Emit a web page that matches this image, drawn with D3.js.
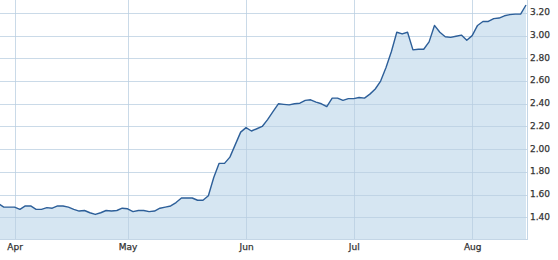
<!DOCTYPE html>
<html lang="en">
<head>
<meta charset="utf-8">
<title>Price chart</title>
<script src="https://cdn.jsdelivr.net/npm/d3@7"></script>
<style>
  body { margin: 0; background: #fff; }
  svg text { font-family: "DejaVu Sans", Verdana, sans-serif; font-size: 9px; fill: #333; stroke: #333; stroke-width: 0.25px; }
</style>
</head>
<body>
<script>
// trading days, Mar 27 - Aug 15
var startDay = "2019-03-27";
var endDay = "2019-08-15";
var holidays = ["2019-04-19", "2019-05-27", "2019-07-04"];

var prices = [
  1.52, 1.49, 1.49, 1.49, 1.47, 1.50, 1.50, 1.47, 1.47, 1.485,
  1.48, 1.50, 1.50, 1.49, 1.47, 1.455, 1.46, 1.44, 1.425, 1.44,
  1.46, 1.455, 1.46, 1.48, 1.475, 1.45, 1.46, 1.46, 1.45, 1.455,
  1.48, 1.49, 1.50, 1.53, 1.57, 1.57, 1.57, 1.55, 1.55, 1.59,
  1.75, 1.875, 1.875, 1.93, 2.04, 2.15, 2.19, 2.16, 2.18, 2.20,
  2.26, 2.33, 2.40, 2.395, 2.39, 2.40, 2.405, 2.43, 2.435, 2.415,
  2.40, 2.375, 2.45, 2.45, 2.43, 2.445, 2.445, 2.455, 2.45, 2.485,
  2.53, 2.60, 2.72, 2.86, 3.03, 3.015, 3.03, 2.875, 2.88, 2.88,
  2.945, 3.09, 3.03, 2.99, 2.985, 2.995, 3.005, 2.96, 3.00, 3.09,
  3.125, 3.125, 3.15, 3.155, 3.175, 3.185, 3.19, 3.19, 3.27
];

var yTicks = [1.40, 1.60, 1.80, 2.00, 2.20, 2.40, 2.60, 2.80, 3.00, 3.20];

var w = 558, h = 260;
var plotW = 527, plotH = 240;

var fmt = d3.timeFormat("%Y-%m-%d");
var parse = d3.timeParse("%Y-%m-%d");
var days = d3.timeDay.range(parse(startDay), d3.timeDay.offset(parse(endDay), 1))
  .filter(function(d) {
    return d.getDay() != 0 && d.getDay() != 6 && holidays.indexOf(fmt(d)) < 0;
  })
  .map(fmt);

var data = days.map(function(d, i) { return { day: d, v: prices[i] }; });

// first trading day of each month gets a tick
var monthStarts = days.filter(function(d, i) {
  return i > 0 && d.slice(5, 7) != days[i - 1].slice(5, 7);
});

var xScale = d3.scalePoint()
  .domain(days)
  .range([-1.6, 526]);

var yScale = d3.scaleLinear()
  .domain([1.2, 3.3])
  .range([240, 1.6]);

var svg = d3.select("body").append("svg")
  .attr("width", w)
  .attr("height", h);

var plot = svg.append("g");

plot.append("clipPath").attr("id", "clip")
  .append("rect").attr("width", plotW).attr("height", plotH);

var area = d3.area()
  .x(function(d) { return xScale(d.day); })
  .y0(plotH)
  .y1(function(d) { return yScale(d.v); });

var line = d3.line()
  .x(function(d) { return xScale(d.day); })
  .y(function(d) { return yScale(d.v); });

plot.append("path")
  .datum(data)
  .attr("clip-path", "url(#clip)")
  .attr("d", area)
  .attr("fill", "#d6e6f2");

// grid lines
plot.selectAll(".hgrid")
  .data(yTicks)
  .enter()
  .append("line")
  .attr("x1", 0)
  .attr("x2", plotW)
  .attr("y1", function(d) { return Math.round(yScale(d)) + 0.5; })
  .attr("y2", function(d) { return Math.round(yScale(d)) + 0.5; })
  .attr("stroke", "#b8cde0")
  .attr("stroke-opacity", 0.75);

plot.selectAll(".vgrid")
  .data(monthStarts)
  .enter()
  .append("line")
  .attr("x1", function(d) { return Math.round(xScale(d)) + 0.5; })
  .attr("x2", function(d) { return Math.round(xScale(d)) + 0.5; })
  .attr("y1", 0)
  .attr("y2", plotH)
  .attr("stroke", "#b8cde0")
  .attr("stroke-opacity", 0.75);

// plot frame, right and bottom
plot.append("line")
  .attr("x1", plotW + 0.5).attr("x2", plotW + 0.5)
  .attr("y1", 0).attr("y2", plotH)
  .attr("stroke", "#c4d6e6");
plot.append("line")
  .attr("x1", 0).attr("x2", plotW)
  .attr("y1", plotH - 0.5).attr("y2", plotH - 0.5)
  .attr("stroke", "#c4d6e6");

plot.append("path")
  .datum(data)
  .attr("clip-path", "url(#clip)")
  .attr("d", line)
  .attr("fill", "none")
  .attr("stroke", "#2d5f99")
  .attr("stroke-width", 1.4)
  .attr("stroke-linejoin", "round");

// axes
var yAxis = d3.axisRight(yScale)
  .tickValues(yTicks)
  .tickSize(0)
  .tickPadding(3)
  .tickFormat(d3.format(".2f"));

svg.append("g")
  .attr("transform", "translate(" + plotW + ",-1)")
  .call(yAxis)
  .call(function(g) { g.select(".domain").remove(); })
  .selectAll("text")
  .attr("font-family", null)
  .attr("font-size", null);

var xAxis = d3.axisBottom(xScale)
  .tickValues(monthStarts)
  .tickSize(0)
  .tickPadding(4)
  .tickFormat(function(d) { return d3.timeFormat("%b")(parse(d)); });

svg.append("g")
  .attr("transform", "translate(0," + plotH + ")")
  .call(xAxis)
  .call(function(g) { g.select(".domain").remove(); })
  .selectAll("text")
  .attr("font-family", null)
  .attr("font-size", null);
</script>
</body>
</html>
